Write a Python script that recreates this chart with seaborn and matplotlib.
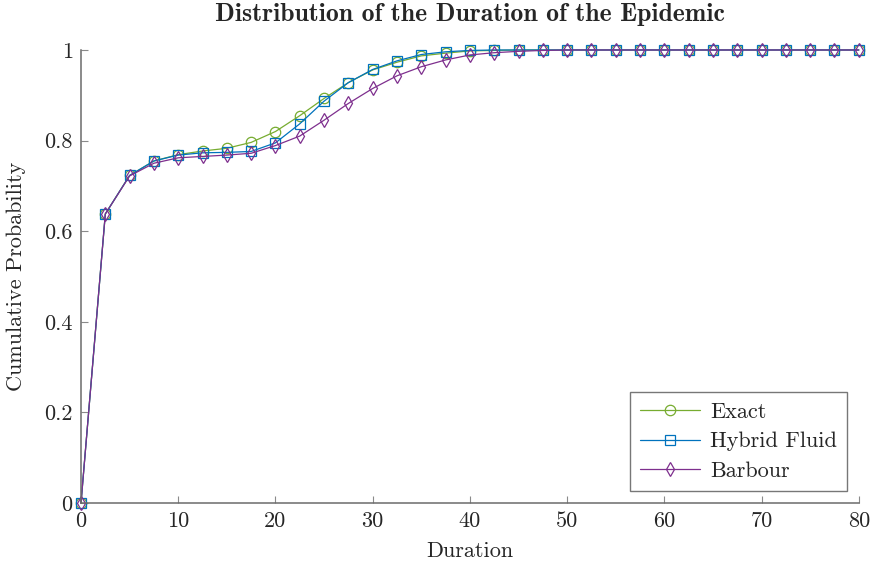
import numpy as np
import pandas as pd
import matplotlib
matplotlib.use("Agg")
import matplotlib.pyplot as plt
import seaborn as sns

# durations (step 2.5 from 0 to 80)
duration = [0, 2.5, 5, 7.5, 10, 12.5, 15, 17.5, 20, 22.5, 25, 27.5, 30, 32.5, 35,
            37.5, 40, 42.5, 45, 47.5, 50, 52.5, 55, 57.5, 60, 62.5, 65, 67.5, 70,
            72.5, 75, 77.5, 80]

exact = [0, 0.638, 0.723, 0.755, 0.769, 0.777, 0.783, 0.796, 0.820, 0.855, 0.893,
         0.928, 0.956, 0.973, 0.987, 0.993, 0.998, 0.999, 1.0, 1.0, 1.0, 1.0, 1.0,
         1.0, 1.0, 1.0, 1.0, 1.0, 1.0, 1.0, 1.0, 1.0, 1.0]

hybrid = [0, 0.638, 0.723, 0.755, 0.768, 0.773, 0.774, 0.776, 0.795, 0.837, 0.887,
          0.928, 0.957, 0.976, 0.990, 0.996, 0.999, 1.0, 1.0, 1.0, 1.0, 1.0, 1.0,
          1.0, 1.0, 1.0, 1.0, 1.0, 1.0, 1.0, 1.0, 1.0, 1.0]

barbour = [0, 0.638, 0.722, 0.750, 0.762, 0.765, 0.768, 0.772, 0.789, 0.810, 0.845,
           0.882, 0.915, 0.943, 0.963, 0.978, 0.989, 0.994, 0.997, 0.999, 1.0, 1.0,
           1.0, 1.0, 1.0, 1.0, 1.0, 1.0, 1.0, 1.0, 1.0, 1.0, 1.0]

df = pd.DataFrame({
    "Duration": duration * 3,
    "Probability": exact + hybrid + barbour,
    "Method": ["Exact"] * len(duration) + ["Hybrid Fluid"] * len(duration)
              + ["Barbour"] * len(duration),
})

sns.set_theme(style="white")
plt.rcParams["font.family"] = ["cmr10", "DejaVu Serif"]
plt.rcParams["mathtext.fontset"] = "cm"
plt.rcParams["axes.formatter.use_mathtext"] = True

palette = {"Exact": "#77AC30", "Hybrid Fluid": "#0072BD", "Barbour": "#7E2F8E"}
markers = {"Exact": "o", "Hybrid Fluid": "s", "Barbour": "d"}

fig = plt.figure(figsize=(8.71, 5.61), dpi=100)
ax = fig.add_axes([0.093, 0.1034, 0.893, 0.8075])

for name in ["Exact", "Hybrid Fluid", "Barbour"]:
    sub = df[df["Method"] == name]
    sns.lineplot(data=sub, x="Duration", y="Probability", ax=ax,
                 color=palette[name], marker=markers[name], markersize=7.5,
                 markerfacecolor="none", markeredgecolor=palette[name],
                 markeredgewidth=0.9, linewidth=0.9, label=name, clip_on=False)

ax.set_xlim(0, 80)
ax.set_ylim(0, 1)
ax.set_xticks(np.arange(0, 81, 10))
ax.set_yticks([0, 0.2, 0.4, 0.6, 0.8, 1])
ax.set_yticklabels(["0", "0.2", "0.4", "0.6", "0.8", "1"])
ax.set_xticklabels([str(v) for v in range(0, 81, 10)])

for side in ["top", "right"]:
    ax.spines[side].set_visible(False)
for side in ["left", "bottom"]:
    ax.spines[side].set_color("#6b6b6b")
    ax.spines[side].set_linewidth(1.1)
ax.tick_params(direction="in", length=5, width=0.8, color="#8a8a8a",
               labelsize=16, pad=6, bottom=True, left=True)

ax.set_xlabel("Duration", fontsize=16, labelpad=8)
ax.set_ylabel("Cumulative Probability", fontsize=16, labelpad=13)
ax.set_title("Distribution of the Duration of the Epidemic", fontsize=18.5,
             fontfamily=["cmb10", "DejaVu Serif"], pad=21)

leg = ax.legend(loc="lower right", fontsize=16, frameon=True, fancybox=False,
                edgecolor="#555555", borderpad=0.45, handlelength=2.7,
                handletextpad=0.45, labelspacing=0.45, borderaxespad=0,
                bbox_to_anchor=(0.9846, 0.0265))
leg.get_frame().set_linewidth(1.0)

fig.savefig("out.png", dpi=100)
